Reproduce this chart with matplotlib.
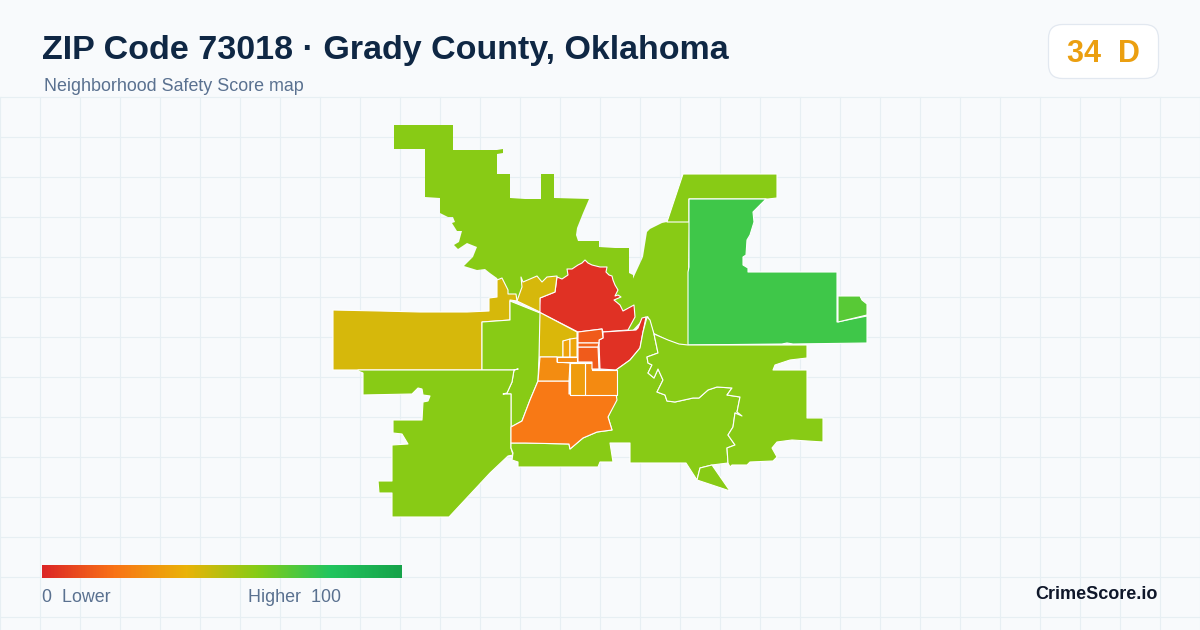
import matplotlib
matplotlib.use('Agg')
import matplotlib.pyplot as plt
import numpy as np
from matplotlib.colors import LinearSegmentedColormap
from matplotlib.patches import FancyBboxPatch, Polygon

plt.rcParams['font.family'] = ['Liberation Sans', 'DejaVu Sans']

# Title and legend texts
titulo = 'ZIP Code 73018 · Grady County, Oklahoma'
subtitulo = 'Neighborhood Safety Score map'
nota = '34  D'
marca = 'CrimeScore.io'

# Color scale of the score
escala_pos = [0, 0.2, 0.4, 0.6, 0.8, 1]
escala_col = ['#dc2626', '#f97316', '#eab308', '#84cc16', '#22c55e', '#16a34a']

# Tract outlines (pixels) and their scores
norte = [(394, 125), (453, 125), (453, 150), (497, 150), (503, 149), (503, 153), (497, 154), (497, 174),
         (510, 174), (510, 198), (525, 199), (541, 199), (541, 174), (554, 174), (554, 198), (589, 199),
         (583, 213), (577, 228), (576, 235), (578, 241), (599, 241), (599, 247), (615, 248), (629, 248),
         (629, 273), (633, 275), (633, 282), (631, 283), (643, 257), (647, 232), (650, 229), (662, 223),
         (667, 222), (689, 222), (688, 272), (688, 345), (679, 344), (668, 340), (654, 333), (650, 320),
         (648, 316), (645, 317), (628, 335), (620, 335), (600, 320), (540, 300), (510, 300), (497, 278),
         (490, 273), (485, 269), (477, 270), (464, 266), (473, 257), (477, 247), (467, 243), (458, 249),
         (454, 245), (459, 242), (462, 231), (457, 231), (452, 223), (455, 222), (453, 217), (448, 217),
         (440, 213), (440, 198), (425, 197), (425, 149), (394, 149)]
noreste = [(667, 222), (683, 174), (777, 174), (777, 198), (768, 199), (766, 199), (689, 199), (689, 222)]
verde = [(689, 199), (766, 199), (753, 212), (754, 222), (750, 235), (747, 240), (746, 255), (743, 257),
         (743, 265), (748, 268), (748, 272), (837, 272), (837, 322), (867, 316), (867, 343), (793, 344),
         (787, 343), (782, 344), (688, 345), (688, 272), (689, 267)]
verde_chico = [(838, 296), (860, 296), (862, 300), (867, 304), (867, 315), (838, 322)]
rojo_norte = [(540, 298), (555, 292), (557, 277), (562, 279), (568, 275), (567, 269), (572, 269), (578, 265),
              (582, 263), (585, 260), (588, 263), (592, 265), (600, 267), (607, 267), (606, 272), (609, 275),
              (612, 276), (613, 280), (615, 285), (618, 290), (615, 296), (618, 295), (621, 297), (614, 300),
              (620, 305), (623, 311), (634, 305), (635, 317), (628, 330), (603, 332), (602, 329), (578, 332),
              (539, 312)]
rojo_sur = [(603, 332), (636, 330), (638, 328), (642, 318), (646, 317), (643, 332), (640, 348), (630, 360),
            (616, 370), (600, 369), (599, 343), (599, 340), (603, 338)]
amarillo_oeste = [(333, 310), (380, 311), (420, 312), (467, 312), (489, 311), (489, 298), (497, 297), (497, 280),
                  (502, 278), (508, 290), (508, 294), (516, 294), (517, 301), (510, 300), (510, 320), (482, 322),
                  (482, 370), (333, 370)]
amarillo_norte = [(521, 277), (523, 282), (537, 276), (542, 282), (547, 277), (557, 276), (555, 292), (540, 298),
                  (540, 312), (517, 301), (522, 287)]
amarillo_centro = [(539, 312), (577, 332), (577, 340), (563, 341), (563, 357), (539, 357)]
oeste_medio = [(482, 322), (510, 320), (510, 301), (540, 313), (539, 357), (538, 381), (530, 400), (522, 421),
               (511, 427), (511, 394), (503, 394), (507, 393), (512, 382), (514, 370), (518, 369), (514, 370),
               (482, 370)]
suroeste = [(358, 371), (363, 373), (363, 395), (412, 394), (418, 388), (422, 389), (423, 395), (430, 396),
            (428, 401), (423, 402), (422, 420), (393, 420), (393, 433), (402, 434), (408, 444), (392, 445),
            (392, 481), (378, 481), (379, 493), (392, 493), (392, 517), (449, 517), (490, 473), (508, 456),
            (513, 455), (511, 448), (511, 394), (503, 394), (507, 393), (512, 382), (514, 370), (358, 370)]
naranja_grande = [(538, 381), (569, 381), (569, 394), (616, 394), (617, 400), (608, 417), (612, 430), (597, 432),
                  (583, 438), (570, 449), (569, 444), (525, 443), (511, 443), (511, 427), (522, 421), (530, 400)]
naranja_oeste = [(540, 357), (557, 357), (557, 362), (570, 363), (569, 381), (538, 381)]
naranja_este = [(585, 363), (592, 363), (592, 370), (617, 370), (617, 395), (585, 395)]
naranja_medio = [(570, 363), (585, 363), (585, 395), (570, 395)]
franja = [(557, 357), (577, 357), (577, 362), (557, 362)]
centro_a = [(578, 332), (602, 329), (603, 338), (599, 340), (599, 343), (578, 343)]
centro_b = [(578, 347), (598, 347), (599, 369), (592, 369), (592, 362), (578, 362)]
centro_c = [(578, 343), (599, 343), (598, 347), (578, 347)]
chico_a = [(563, 341), (570, 339), (570, 357), (563, 357)]
chico_b = [(570, 339), (577, 338), (577, 357), (570, 357)]
sur = [(647, 317), (650, 320), (654, 334), (658, 353), (647, 357), (648, 363), (652, 365), (648, 373), (654, 378),
       (658, 369), (663, 380), (657, 392), (665, 395), (667, 401), (675, 402), (693, 398), (699, 398), (708, 390),
       (717, 387), (732, 388), (727, 395), (740, 397), (737, 412), (742, 416), (735, 413), (733, 427), (728, 435),
       (735, 445), (727, 448), (728, 463), (712, 465), (700, 468), (697, 480), (686, 463), (630, 463), (630, 443),
       (610, 443), (613, 462), (600, 462), (598, 467), (518, 467), (518, 462), (512, 460), (513, 453), (511, 448),
       (511, 443), (525, 443), (569, 444), (570, 449), (583, 438), (597, 432), (612, 430), (608, 417), (617, 395),
       (616, 370), (630, 360), (640, 348), (643, 332)]
sureste = [(654, 334), (668, 340), (679, 344), (688, 345), (782, 345), (807, 345), (807, 358), (790, 360),
           (775, 365), (773, 370), (807, 370), (807, 418), (823, 418), (823, 442), (792, 440), (777, 442),
           (772, 448), (777, 457), (773, 461), (750, 462), (747, 465), (732, 465), (730, 467), (728, 463),
           (727, 448), (735, 445), (728, 435), (733, 427), (735, 413), (742, 416), (737, 412), (740, 397),
           (727, 395), (732, 388), (717, 387), (708, 390), (699, 398), (693, 398), (675, 402), (667, 401),
           (665, 395), (657, 392), (663, 380), (658, 369), (654, 378), (648, 373), (652, 365), (648, 363),
           (647, 357), (658, 353)]
punta = [(697, 480), (700, 468), (712, 465), (730, 491)]

zonas = [noreste, verde, verde_chico, rojo_norte, rojo_sur, amarillo_oeste, amarillo_norte, amarillo_centro,
         oeste_medio, suroeste, sur, sureste, punta, naranja_grande, naranja_oeste, naranja_este, naranja_medio,
         franja, centro_a, centro_b, centro_c, chico_a, chico_b]
puntajes = [59, 74, 69, 3, 3, 44, 44, 43,
            59, 59, 59, 59, 59, 22, 28, 27, 33,
            27, 14, 14, 16, 35, 36]
puntaje_norte = 59

cmap = LinearSegmentedColormap.from_list('score', list(zip(escala_pos, escala_col)))

fig = plt.figure(figsize=(12, 6.3), dpi=100, facecolor='#f8fafc')
ax = fig.add_axes([0, 0, 1, 1])
ax.set_xlim(0, 1200)
ax.set_ylim(630, 0)
ax.axis('off')

# Background grid below the header
for x in range(0, 1201, 40):
    ax.plot([x, x], [97, 630], color='#e7eff3', lw=0.85, zorder=1)
for y in range(97, 630, 40):
    ax.plot([0, 1200], [y, y], color='#e7eff3', lw=0.85, zorder=1)

# Map
ax.add_patch(Polygon(norte, closed=True, facecolor=cmap(puntaje_norte / 100), edgecolor='none', zorder=2))
for zona, puntaje in zip(zonas, puntajes):
    ax.add_patch(Polygon(zona, closed=True, facecolor=cmap(puntaje / 100), edgecolor='white', lw=0.8,
                         joinstyle='round', zorder=3))

# Header
ax.text(42, 59, titulo, fontsize=24.5, fontweight='bold', color='#0f2744', va='baseline', zorder=5)
ax.text(44, 91, subtitulo, fontsize=12.9, color='#5a7190', va='baseline', zorder=5)

caja = FancyBboxPatch((1048.5, 24.5), 110, 54, boxstyle='round,pad=0,rounding_size=14',
                      facecolor='white', edgecolor='#e2e8f0', lw=0.9, zorder=4)
ax.add_patch(caja)
ax.text(1103, 61.5, nota, fontsize=22, fontweight='bold', color='#eb9f10', ha='center', va='baseline', zorder=5)

# Legend bar
gradiente = np.linspace(0, 1, 360).reshape(1, -1)
ax.imshow(gradiente, cmap=cmap, extent=(42, 402, 578, 565), aspect='auto', zorder=4)
ax.set_xlim(0, 1200)
ax.set_ylim(630, 0)
ax.text(42, 602.5, '0  Lower', fontsize=12.9, color='#5a7190', va='baseline', zorder=5)
ax.text(341, 602.5, 'Higher  100', fontsize=12.9, color='#5a7190', ha='right', va='baseline', zorder=5)
ax.text(1158, 599, marca, fontsize=13, fontweight='bold', color='#0f172a', ha='right', va='baseline', zorder=5)

fig.savefig('out.png', dpi=100, facecolor=fig.get_facecolor())
